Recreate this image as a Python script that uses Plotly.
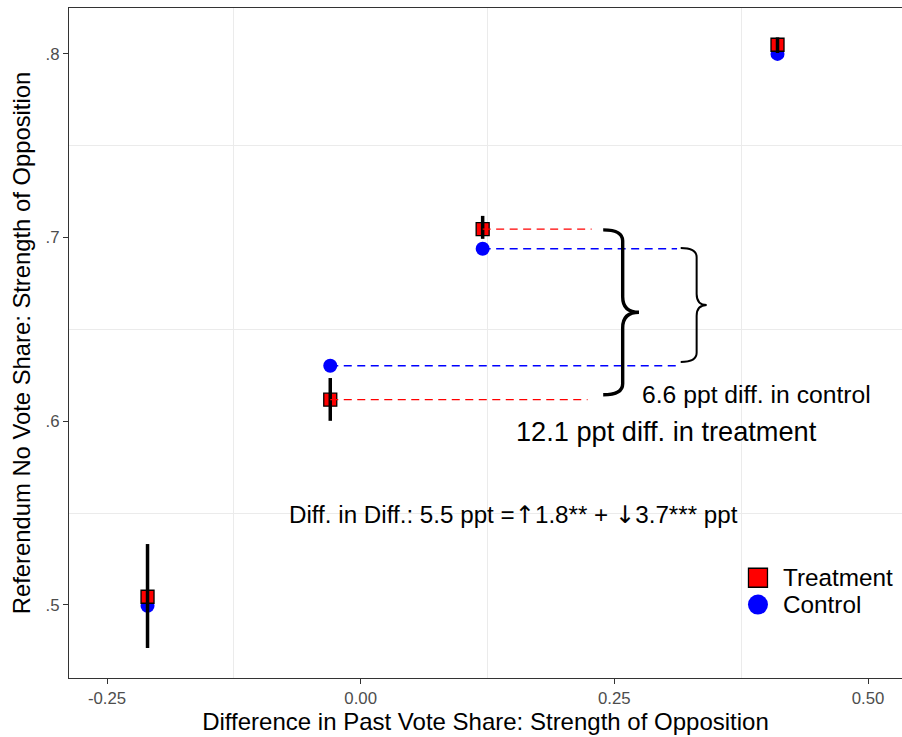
import plotly.graph_objects as go

# Binned estimates: past-vote difference vs. referendum "No" share
past_vote_diff = [-0.2101, -0.0300, 0.1202, 0.4108]
treatment_share = [0.5044, 0.6117, 0.7046, 0.8050]
control_share = [0.4995, 0.6302, 0.6939, 0.8000]
treatment_lo = [0.4765, 0.6002, 0.6993, 0.8005]
treatment_hi = [0.5331, 0.6235, 0.7118, 0.8090]

x_ticks = [-0.25, 0.0, 0.25, 0.5]
x_tick_labels = ["-0.25", "0.00", "0.25", "0.50"]
y_ticks = [0.5, 0.6, 0.7, 0.8]
y_tick_labels = [".5", ".6", ".7", ".8"]

# bins compared by the braces, and where their guide lines stop
pair = [1, 2]
treat_line_end = [0.2236, 0.2276]
ctrl_line_end = [0.3118, 0.3118]

RED = "#FF0000"
BLUE = "#0000FF"
INK = "#000000"
FONT = "Liberation Sans, Arial, Helvetica, sans-serif"
ARROW = '<span style="font-family:DejaVu Sans">{}</span>'

fig = go.Figure()

fig.add_trace(go.Scatter(
    x=past_vote_diff, y=control_share, mode="markers", name="Control",
    marker=dict(symbol="circle", size=14, color=BLUE, line=dict(width=0)),
    showlegend=False,
))
fig.add_trace(go.Scatter(
    x=past_vote_diff, y=treatment_share, mode="markers", name="Treatment",
    marker=dict(symbol="square", size=13, color=RED, line=dict(width=1.3, color=INK)),
    showlegend=False,
))

# confidence intervals for the treatment estimates
ex, ey = [], []
for xv, lo, hi in zip(past_vote_diff, treatment_lo, treatment_hi):
    ex += [xv, xv, None]
    ey += [lo, hi, None]
fig.add_trace(go.Scatter(x=ex, y=ey, mode="lines", line=dict(color=INK, width=3.5),
                         hoverinfo="skip", showlegend=False))

# dashed guides from the two compared bins toward the braces
for i, xe in zip(pair, treat_line_end):
    fig.add_trace(go.Scatter(x=[past_vote_diff[i], xe], y=[treatment_share[i]] * 2,
                             mode="lines", line=dict(color=RED, width=1.3, dash="8px,5.5px"),
                             hoverinfo="skip", showlegend=False))
for i, xe in zip(pair, ctrl_line_end):
    fig.add_trace(go.Scatter(x=[past_vote_diff[i], xe], y=[control_share[i]] * 2,
                             mode="lines", line=dict(color=BLUE, width=1.3, dash="8px,5.5px"),
                             hoverinfo="skip", showlegend=False))


def brace_path(x0, xm, tip, y_top, y_bot, r_end, r_mid):
    ym = (y_top + y_bot) / 2
    return (f"M {x0},{y_top} Q {xm},{y_top} {xm},{y_top - r_end} "
            f"L {xm},{ym + r_mid} Q {xm},{ym} {tip},{ym} "
            f"Q {xm},{ym} {xm},{ym - r_mid} "
            f"L {xm},{y_bot + r_end} Q {xm},{y_bot} {x0},{y_bot}")


shapes = [
    dict(type="path", xref="x", yref="y",
         path=brace_path(0.2390, 0.2582, 0.2743, 0.7042, 0.6144, 0.0060, 0.0085),
         line=dict(color=INK, width=3.4)),
    dict(type="path", xref="x", yref="y",
         path=brace_path(0.3154, 0.3311, 0.3410, 0.6943, 0.6322, 0.0050, 0.0060),
         line=dict(color=INK, width=2)),
]

# legend keys
leg_x = 0.8271
shapes += [
    dict(type="rect", xref="paper", yref="paper", xsizemode="pixel", ysizemode="pixel",
         xanchor=leg_x, yanchor=0.1496, x0=-9.5, x1=9.5, y0=-9.5, y1=9.5,
         fillcolor=RED, line=dict(color=INK, width=1.3)),
    dict(type="circle", xref="paper", yref="paper", xsizemode="pixel", ysizemode="pixel",
         xanchor=leg_x, yanchor=0.1096, x0=-10, x1=10, y0=-10, y1=10,
         fillcolor=BLUE, line=dict(width=0)),
]

did_text = ("Diff. in Diff.: 5.5 ppt =" + ARROW.format("\u2191") + "1.8** + "
            + ARROW.format("\u2193") + "3.7*** ppt")

annotations = [
    dict(x=0.390, y=0.6144, xref="x", yref="y", text="6.6 ppt diff. in control",
         showarrow=False, font=dict(size=24.7, color=INK)),
    dict(x=0.3009, y=0.5942, xref="x", yref="y", text="12.1 ppt diff. in treatment",
         showarrow=False, font=dict(size=27.2, color=INK)),
    dict(x=0.1506, y=0.549, xref="x", yref="y", text=did_text,
         showarrow=False, font=dict(size=24.2, color=INK)),
    dict(x=0.8547, y=0.1496, xref="paper", yref="paper", text="Treatment",
         showarrow=False, xanchor="left", yanchor="middle", font=dict(size=24.3, color=INK)),
    dict(x=0.8547, y=0.1096, xref="paper", yref="paper", text="Control",
         showarrow=False, xanchor="left", yanchor="middle", font=dict(size=24.3, color=INK)),
]

fig.update_layout(
    width=902, height=737,
    margin=dict(l=69, r=0, t=8, b=59),
    paper_bgcolor="white", plot_bgcolor="white",
    font=dict(family=FONT, color=INK),
    shapes=shapes, annotations=annotations,
    xaxis=dict(
        range=[-0.2875, 0.5335], tickvals=x_ticks, ticktext=x_tick_labels,
        showgrid=False, zeroline=False,
        minor=dict(tickvals=[-0.125, 0.125, 0.375], showgrid=True, gridcolor="#ebebeb",
                   gridwidth=1.1, ticklen=0),
        showline=True, linecolor="#333333", linewidth=1.1, mirror=True,
        ticks="outside", ticklen=5, tickwidth=1.1, tickcolor="#333333",
        tickfont=dict(size=16.8, color="#4d4d4d"),
        title=dict(text="Difference in Past Vote Share: Strength of Opposition",
                   font=dict(size=24, color=INK), standoff=3),
    ),
    yaxis=dict(
        range=[0.46015, 0.8250], tickvals=y_ticks, ticktext=y_tick_labels,
        showgrid=False, zeroline=False,
        minor=dict(tickvals=[0.55, 0.65, 0.75], showgrid=True, gridcolor="#ebebeb",
                   gridwidth=1.1, ticklen=0),
        showline=True, linecolor="#333333", linewidth=1.1, mirror=False,
        ticks="outside", ticklen=5, tickwidth=1.1, tickcolor="#333333",
        tickfont=dict(size=16.8, color="#4d4d4d"),
        title=dict(text="Referendum No Vote Share: Strength of Opposition",
                   font=dict(size=23.8, color=INK), standoff=8),
    ),
)

fig.write_html("out.html")
